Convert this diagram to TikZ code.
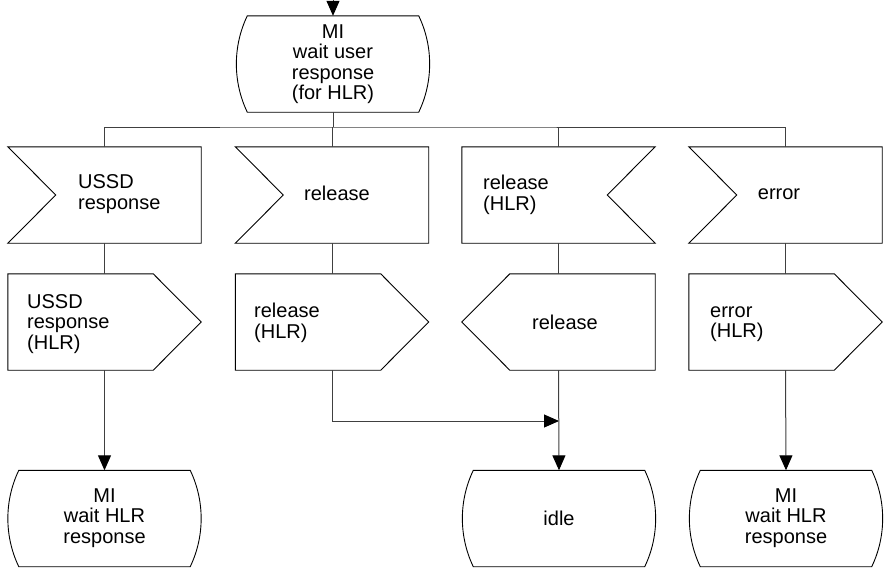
\documentclass[tikz,border=0pt]{standalone}
\usepackage{fontspec}
\setmainfont{Liberation Sans}
\usetikzlibrary{arrows.meta,calc}
\tikzset{
  box/.style={draw=none,minimum width=193pt,minimum height=96pt,inner sep=0pt},
  outline/.style={draw=black,line width=0.9pt,line join=miter},
  conn/.style={draw=black!75,line width=1pt},
  arr/.style={conn,-{Triangle[length=15pt,width=13pt,color=black]}},
  lbl/.style={inner sep=0pt,font=\fontsize{20}{20.5}\selectfont},
  lblc/.style={lbl,align=center},
  lbll/.style={lbl,align=left,anchor=west}
}
\newcommand{\statepath}[1]{%
  \path[outline] ([xshift=11pt]#1.north west) -- ([xshift=-11pt]#1.north east)
    .. controls +(14.6,30.3) and +(14.6,-30.3) .. ([xshift=-11pt]#1.south east)
    -- ([xshift=11pt]#1.south west)
    .. controls +(-14.6,-30.3) and +(-14.6,30.3) .. ([xshift=11pt]#1.north west) -- cycle;}
\newcommand{\inwest}[1]{%
  \path[outline] (#1.north west) -- (#1.north east) -- (#1.south east) -- (#1.south west)
    -- ([xshift=48pt]#1.west) -- cycle;}
\newcommand{\ineast}[1]{%
  \path[outline] (#1.north west) -- (#1.north east) -- ([xshift=-48pt]#1.east)
    -- (#1.south east) -- (#1.south west) -- cycle;}
\newcommand{\outeast}[1]{%
  \path[outline] (#1.north west) -- ([xshift=-48pt]#1.north east) -- (#1.east)
    -- ([xshift=-48pt]#1.south east) -- (#1.south west) -- cycle;}
\newcommand{\outwest}[1]{%
  \path[outline] ([xshift=48pt]#1.north west) -- (#1.north east) -- (#1.south east)
    -- ([xshift=48pt]#1.south west) -- (#1.west) -- cycle;}
\begin{document}
\begin{tikzpicture}[x=1pt,y=-1pt]
\useasboundingbox[fill=white] (0,0) rectangle (885,574);
% nodes (shapes)
\node[box] (top) at (333,64) {};
\node[box] (in1) at (104.5,195) {};
\node[box] (in2) at (332,195) {};
\node[box] (in3) at (558.5,195) {};
\node[box] (in4) at (785.5,195) {};
\node[box] (out1) at (104.5,322) {};
\node[box] (out2) at (332,322) {};
\node[box] (out3) at (558.5,322) {};
\node[box] (out4) at (785.5,322) {};
\node[box] (st1) at (104.5,518.5) {};
\node[box] (st3) at (559,518.5) {};
\node[box] (st4) at (786,518.5) {};
% outlines
\statepath{top}
\inwest{in1}
\inwest{in2}
\ineast{in3}
\inwest{in4}
\outeast{out1}
\outeast{out2}
\outwest{out3}
\outeast{out4}
\statepath{st1}
\statepath{st3}
\statepath{st4}
% texts
\node[lblc] (ttop) at (333,64) {MI\\wait user\\response\\(for HLR)};
\node[lbll] (tin1) at (78,194) {USSD\\response};
\node[lblc] (tin2) at (337,193) {release};
\node[lbll] (tin3) at (483,195) {release\\(HLR)};
\node[lblc] (tin4) at (779,194) {error};
\node[lbll] (tout1) at (27,324) {USSD\\response\\(HLR)};
\node[lbll] (tout2) at (254,323) {release\\(HLR)};
\node[lblc] (tout3) at (565,322) {release};
\node[lbll] (tout4) at (710,324) {error\\(HLR)};
\node[lblc] (tst1) at (104.5,518) {MI\\wait HLR\\response};
\node[lblc] (tst3) at (559,518) {idle};
\node[lblc] (tst4) at (786,518) {MI\\wait HLR\\response};
% connectors
\coordinate (entry) at (333,0);
\coordinate (bus) at (333,127);
\coordinate (join) at (559,421);
\draw[arr] (entry) -- (top.north);
\draw[conn] (top.south) -- (bus);
\draw[conn] (in1.north) |- (bus) -| (in4.north);
\draw[conn] (in2.north) -- (in2.north |- bus);
\draw[conn] (in3.north) -- (in3.north |- bus);
\draw[conn] (in1.south) -- (out1.north);
\draw[conn] (in2.south) -- (out2.north);
\draw[conn] (in3.south) -- (out3.north);
\draw[conn] (in4.south) -- (out4.north);
\draw[arr] (out1.south) -- (st1.north);
\draw[arr] (out2.south) |- (join);
\draw[arr] (out3.south) -- (st3.north);
\draw[arr] (out4.south) -- (st4.north);
\end{tikzpicture}
\end{document}
